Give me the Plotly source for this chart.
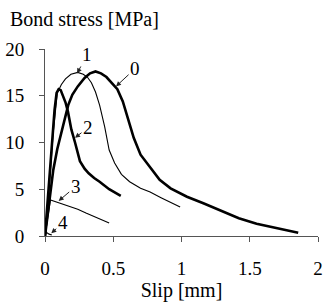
import plotly.graph_objects as go

# Curve 0 (thick)
c0_x = [0, 0.02, 0.04, 0.06, 0.09, 0.13, 0.17, 0.20, 0.24, 0.29, 0.33, 0.37, 0.41, 0.45, 0.49, 0.53, 0.57, 0.61, 0.65, 0.70, 0.77, 0.84, 0.92, 1.04, 1.16, 1.245, 1.33, 1.42, 1.55, 1.70, 1.855]
c0_y = [0, 2.5, 5.0, 7.0, 9.3, 11.7, 14.0, 15.1, 16.0, 16.9, 17.4, 17.6, 17.4, 17.0, 16.4, 15.7, 14.4, 12.4, 10.5, 8.7, 7.3, 6.0, 5.1, 4.2, 3.5, 3.0, 2.5, 1.9, 1.3, 0.8, 0.35]
# Curve 1 (thin)
c1_x = [0, 0.03, 0.06, 0.09, 0.12, 0.15, 0.19, 0.24, 0.28, 0.31, 0.34, 0.37, 0.40, 0.437, 0.47, 0.51, 0.56, 0.62, 0.70, 0.77, 0.85, 0.92, 0.99]
c1_y = [0, 5.0, 11.0, 15.3, 16.2, 16.8, 17.3, 17.5, 17.3, 17.0, 16.4, 15.4, 14.0, 11.7, 9.2, 7.8, 6.6, 5.8, 5.1, 4.7, 4.1, 3.6, 3.1]
# Curve 2 (thick)
c2_x = [0, 0.01, 0.03, 0.05, 0.07, 0.085, 0.10, 0.115, 0.13, 0.15, 0.168, 0.193, 0.22, 0.256, 0.29, 0.32, 0.36, 0.40, 0.47, 0.555]
c2_y = [0, 2.0, 5.0, 9.5, 13.5, 15.3, 15.7, 15.6, 15.1, 14.3, 13.3, 11.4, 10.0, 8.0, 7.2, 6.7, 6.2, 5.8, 5.0, 4.3]
# Curve 3 (thin)
c3_x = [0, 0.02, 0.04, 0.10, 0.17, 0.24, 0.30, 0.36, 0.42, 0.47]
c3_y = [0, 2.0, 3.85, 3.55, 3.2, 2.85, 2.45, 2.05, 1.7, 1.4]
# Curve 4 (thin)
c4_x = [0, 0.01, 0.03, 0.05]
c4_y = [0, 0.4, 0.2, 0.1]

labels = ["0", "1", "2", "3", "4"]
tip_x = [0.52, 0.235, 0.22, 0.10, 0.046]
tip_y = [16.0, 17.4, 10.5, 3.75, 0.3]
txt_x = [0.66, 0.31, 0.315, 0.225, 0.13]
txt_y = [17.9, 19.4, 11.6, 5.3, 1.4]

x_ticks = [0, 0.5, 1, 1.5, 2]
x_ticktext = ["0", "0.5", "1", "1.5", "2"]
y_ticks = [0, 5, 10, 15, 20]

fig = go.Figure()
series = [(c0_x, c0_y, 2.6), (c1_x, c1_y, 1.1), (c2_x, c2_y, 2.6), (c3_x, c3_y, 1.1), (c4_x, c4_y, 1.1)]
for xs, ys, w in series:
    fig.add_trace(go.Scatter(x=xs, y=ys, mode="lines", line=dict(color="black", width=w), showlegend=False, hoverinfo="skip"))

FAM = "'Liberation Serif', 'Times New Roman', serif"
tick_font = dict(family=FAM, size=19, color="black")
title_font = dict(family=FAM, size=20, color="black")

for lab, tx, ty, ax_, ay_ in zip(labels, tip_x, tip_y, txt_x, txt_y):
    fig.add_annotation(x=tx, y=ty, ax=ax_, ay=ay_, xref="x", yref="y", axref="x", ayref="y",
                       text=lab, showarrow=True, arrowhead=2, arrowsize=1, arrowwidth=1, arrowcolor="#222",
                       font=tick_font, standoff=0)

fig.add_annotation(x=-37 / 273, y=1 + (49 - 19) / 187, xref="paper", yref="paper", text="Bond stress [MPa]",
                   showarrow=False, font=title_font, xanchor="left", yanchor="middle")

fig.update_layout(
    width=325, height=302,
    margin=dict(l=45, r=7, t=49, b=66),
    paper_bgcolor="white", plot_bgcolor="white",
    font=tick_font,
    xaxis=dict(range=[0, 2], tickvals=x_ticks, ticktext=x_ticktext, showgrid=False, zeroline=False, automargin=False,
               showline=True, linecolor="#555", linewidth=1, ticks="outside", ticklen=5, tickcolor="#555",
               tickfont=tick_font,
               title=dict(text="Slip [mm]", font=title_font, standoff=0), ticklabelstandoff=10),
    yaxis=dict(range=[0, 20], tickvals=y_ticks, showgrid=False, zeroline=False, automargin=False,
               showline=True, linecolor="#555", linewidth=1, ticks="outside", ticklen=5, tickcolor="#555",
               tickfont=tick_font, ticklabelstandoff=11),
)
fig.write_html("out.html", config={"displayModeBar": False},
               post_script="document.body.style.margin='0';document.body.style.padding='0';")
